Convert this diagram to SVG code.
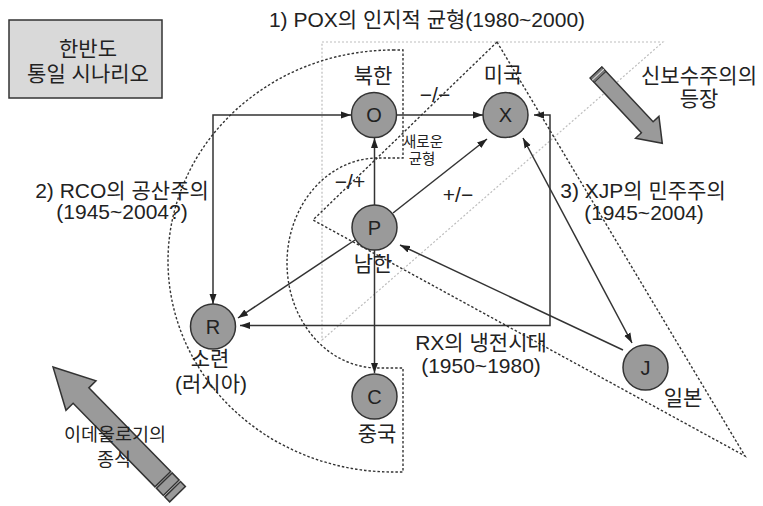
<svg xmlns="http://www.w3.org/2000/svg" width="763" height="506" viewBox="0 0 763 506">
<defs>
<style>
text{font-family:"Liberation Sans","Noto Sans CJK KR",sans-serif;fill:#222;text-anchor:middle}
.t20{font-size:21px}
.tn{font-size:20px}
.t18{font-size:18.5px}
.t14{font-size:14.5px}
.node circle{fill:#9a9a9a;stroke:#333;stroke-width:1.5}
.dot{fill:none;stroke:#333;stroke-width:1.4;stroke-dasharray:2.5 2}
.ldot{fill:none;stroke:#bdbdbd;stroke-width:1.2;stroke-dasharray:2 2}
.con{fill:none;stroke:#333;stroke-width:1.5}
.big{fill:#9a9a9a;stroke:#333;stroke-width:1.5;stroke-linejoin:miter}
</style>
<marker id="ah" viewBox="0 0 10 8" refX="10" refY="4" markerWidth="10" markerHeight="8" markerUnits="userSpaceOnUse" orient="auto-start-reverse">
<path d="M0,0.5 L10,4 L0,7.5 z" fill="#222"/>
</marker>
</defs>

<g id="regions">
<path class="ldot" d="M322,42 L663,42 L322,340 Z"/>
<path class="dot" d="M497,42 L745,456 L313,220 Z"/>
<path class="dot" d="M393,50 L403,50 L403,158 L378,158 A91 105 0 0 0 378,368 L403,368 L403,472 L393,472 A225 211 0 0 1 393,50 Z"/>
</g>

<g id="title-box">
<rect x="9" y="20" width="153" height="78" fill="#d9d9d9" stroke="#333" stroke-width="1.5"/>
<text class="t20" x="88" y="56">한반도</text>
<text class="t20" x="88" y="81">통일 시나리오</text>
</g>

<g id="arrow-neocon">
<g transform="translate(596,72.5) rotate(46.9)">
<polygon class="big" points="0,-8 75,-8 75,-16 97,0 75,16 75,8 0,8"/>
<rect x="0" y="-8" width="6" height="16" fill="#777" stroke="#333" stroke-width="1"/>
<line x1="3" y1="-8" x2="3" y2="8" stroke="#ddd" stroke-width="1"/>
</g>
<text class="t20" x="699" y="83">신보수주의의</text>
<text class="t20" x="699" y="106">등장</text>
</g>

<g id="arrow-ideology">
<g transform="translate(53,367) rotate(45.6)">
<polygon class="big" points="0,0 40,-21 40,-11 157,-11 157,11 40,11 40,21"/>
<rect class="big" x="159" y="-11" width="10" height="22"/>
<rect class="big" x="171" y="-11" width="7" height="22"/>
</g>
<text class="t18" x="115" y="441">이데올로기의</text>
<text class="t18" x="114" y="466">종식</text>
</g>

<g id="connectors">
<line class="con" x1="396" y1="115" x2="483" y2="115" marker-end="url(#ah)"/>
<polyline class="con" points="213,304 213,115 351,115" marker-start="url(#ah)" marker-end="url(#ah)"/>
<line class="con" x1="374.5" y1="205" x2="374.5" y2="138" marker-end="url(#ah)"/>
<line class="con" x1="393" y1="213" x2="487" y2="139" marker-end="url(#ah)"/>
<line class="con" x1="355" y1="240" x2="238" y2="318" marker-end="url(#ah)"/>
<line class="con" x1="374.5" y1="250" x2="374.5" y2="373" marker-end="url(#ah)"/>
<polyline class="con" points="534,115 550,115 550,325.5 240,325.5" marker-start="url(#ah)" marker-end="url(#ah)"/>
<line class="con" x1="623" y1="350" x2="400" y2="245" marker-end="url(#ah)"/>
<line class="con" x1="523" y1="138" x2="632" y2="343" marker-start="url(#ah)" marker-end="url(#ah)"/>
</g>

<g id="node-O" class="node"><circle cx="374" cy="115" r="22.5"/><text class="tn" x="374" y="122">O</text></g>
<g id="node-X" class="node"><circle cx="505.5" cy="115" r="22.5"/><text class="tn" x="505.5" y="122">X</text></g>
<g id="node-P" class="node"><circle cx="374.5" cy="227.5" r="22.5"/><text class="tn" x="374.5" y="234.5">P</text></g>
<g id="node-R" class="node"><circle cx="213" cy="326.5" r="22.5"/><text class="tn" x="213" y="333.5">R</text></g>
<g id="node-C" class="node"><circle cx="374.5" cy="396.5" r="22.5"/><text class="tn" x="374.5" y="403.5">C</text></g>
<g id="node-J" class="node"><circle cx="645.5" cy="367.5" r="22.5"/><text class="tn" x="645.5" y="374.5">J</text></g>

<g id="labels">
<text class="t20" x="427" y="27">1) POX의 인지적 균형(1980~2000)</text>
<text class="t20" x="373" y="83">북한</text>
<text class="t20" x="503" y="82">미국</text>
<text class="t20" x="373" y="271">남한</text>
<text class="t20" x="210" y="366">소련</text>
<text class="t20" x="211" y="391">(러시아)</text>
<text class="t20" x="377" y="441">중국</text>
<text class="t20" x="683" y="405">일본</text>
<text class="t14" x="423" y="147">새로운</text>
<text class="t14" x="422" y="164">균형</text>
<text class="t20" x="435" y="102">−/−</text>
<text class="t20" x="350" y="189">−/+</text>
<text class="t20" x="458" y="202">+/−</text>
<text class="t20" x="122" y="198">2) RCO의 공산주의</text>
<text class="t20" x="122" y="219">(1945~2004?)</text>
<text class="t20" x="643" y="198">3) XJP의 민주주의</text>
<text class="t20" x="644" y="220">(1945~2004)</text>
<text class="t20" x="481" y="350">RX의 냉전시대</text>
<text class="t20" x="481" y="373">(1950~1980)</text>
</g>
</svg>
